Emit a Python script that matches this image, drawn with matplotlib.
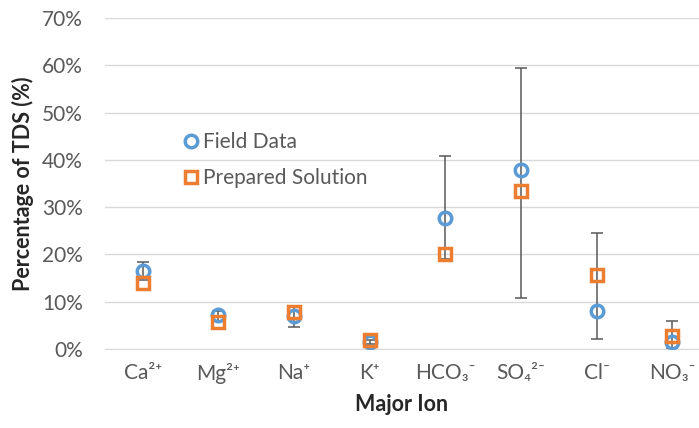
import numpy as np
import matplotlib
matplotlib.use("Agg")
import matplotlib.pyplot as plt

plt.rcParams['font.family'] = ['Lato', 'DejaVu Sans']

# ions and measured percentages of TDS
ions = ['Ca²⁺', 'Mg²⁺', 'Na⁺', 'K⁺', 'HCO₃⁻', 'SO₄²⁻', 'Cl⁻', 'NO₃⁻']
field = [16.6, 7.2, 6.9, 1.5, 27.8, 37.8, 8.0, 1.5]
prepared = [13.9, 5.8, 7.8, 1.9, 20.0, 33.5, 15.6, 2.8]
# error bar limits for field data
err_low = [14.5, 6.0, 4.7, 1.0, 19.0, 10.7, 2.1, 0.3]
err_high = [18.3, 8.0, 9.0, 2.0, 40.9, 59.4, 24.5, 6.0]

blue = '#5B9BD5'
orange = '#ED7D31'
txt = '#595959'

x = np.arange(len(ions))
field = np.array(field)
yerr = [field - np.array(err_low), np.array(err_high) - field]

fig = plt.figure(figsize=(6.99, 4.28), dpi=100)
ax = fig.add_axes([105/699, 79/428, 594/699, 331/428])

ax.errorbar(x, field, yerr=yerr, fmt='none', ecolor='#595959', elinewidth=1.1,
            capsize=4, capthick=1.1, zorder=2)
ax.plot(x, field, 'o', ms=9, mfc='none', mec=blue, mew=2.5, label='Field Data', zorder=3)
ax.plot(x, prepared, 's', ms=9, mfc='none', mec=orange, mew=2.5, label='Prepared Solution', zorder=4)

ax.set_ylim(0, 70)
ax.set_yticks(np.arange(0, 71, 10))
ax.set_yticklabels([f'{v}%' for v in range(0, 71, 10)])
ax.set_xlim(-0.5, 7.5 - 11/75.6)
ax.set_xticks(x)
ax.set_xticklabels(ions)
ax.grid(axis='y', color='#d9d9d9', linewidth=1)
ax.set_axisbelow(True)
for s in ['top', 'right', 'left']:
    ax.spines[s].set_visible(False)
ax.spines['bottom'].set_color('#d9d9d9')
ax.tick_params(axis='both', length=0, labelsize=15, colors=txt)
ax.tick_params(axis='x', pad=10)
ax.tick_params(axis='y', pad=16)

ax.set_xlabel('Major Ion', fontsize=15.5, fontweight='bold', labelpad=7, color='#262626')
ax.set_ylabel('Percentage of TDS (%)', fontsize=15.5, fontweight='bold', labelpad=6, color='#262626')

leg = ax.legend(loc='center left', bbox_to_anchor=(0.095, 0.571), frameon=False, fontsize=15,
                handletextpad=0.1, labelspacing=0.75, handlelength=1.0)
for t in leg.get_texts():
    t.set_color(txt)

fig.savefig('out.png', dpi=100)
